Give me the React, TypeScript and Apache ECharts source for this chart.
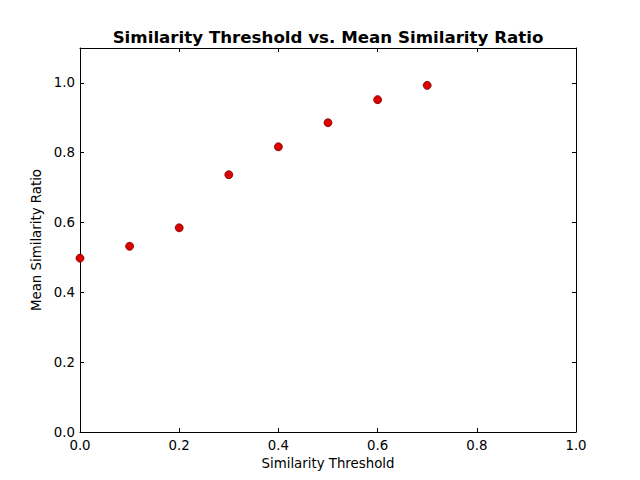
import React, { useEffect, useRef } from "react";
import * as echarts from "echarts";

const thresholds = [0.0, 0.1, 0.2, 0.3, 0.4, 0.5, 0.6, 0.7];
const meanRatios = [0.498, 0.532, 0.585, 0.737, 0.817, 0.886, 0.952, 0.993];
const titleText = "Similarity Threshold vs. Mean Similarity Ratio";
const xName = "Similarity Threshold";
const yName = "Mean Similarity Ratio";

const font = "DejaVu Sans";
const fs = 13.33;

export default function App() {
  const ref = useRef<HTMLDivElement>(null);
  useEffect(() => {
    if (!ref.current) return;
    const chart = echarts.init(ref.current, undefined, { renderer: "svg" });
    const axisCommon = {
      axisLine: { show: true, onZero: false, lineStyle: { color: "#000", width: 1 } },
      axisTick: { show: true, inside: true, length: 4, lineStyle: { color: "#000" } },
      splitLine: { show: false },
    };
    chart.setOption({
      animation: false,
      backgroundColor: "#fff",
      title: {
        text: titleText,
        left: 323,
        textAlign: "center",
        top: 24,
        textStyle: { fontFamily: font, fontWeight: "bold", fontSize: 16.67, color: "#000" },
      },
      grid: { left: 80, right: 64, top: 48, bottom: 48, containLabel: false },
      xAxis: [
        {
          type: "value",
          min: 0,
          max: 1,
          interval: 0.2,
          position: "bottom",
          name: xName,
          nameLocation: "middle",
          nameGap: 24,
          nameTextStyle: { fontFamily: font, fontSize: fs, color: "#000" },
          axisLabel: {
            fontFamily: font,
            fontSize: fs,
            color: "#000",
            margin: 7,
            formatter: (v: number) => v.toFixed(1),
          },
          ...axisCommon,
        },
        {
          type: "value",
          min: 0,
          max: 1,
          interval: 0.2,
          position: "top",
          axisLabel: { show: false },
          ...axisCommon,
        },
      ],
      yAxis: [
        {
          type: "value",
          min: 0,
          max: 1.1,
          interval: 0.2,
          position: "left",
          name: yName,
          nameLocation: "middle",
          nameGap: 27,
          nameTextStyle: { fontFamily: font, fontSize: fs, color: "#000" },
          axisLabel: {
            fontFamily: font,
            fontSize: fs,
            color: "#000",
            margin: 5,
            showMaxLabel: false,
            formatter: (v: number) => v.toFixed(1),
          },
          ...axisCommon,
        },
        {
          type: "value",
          min: 0,
          max: 1.1,
          interval: 0.2,
          position: "right",
          axisLabel: { show: false },
          ...axisCommon,
        },
      ],
      series: [
        {
          type: "scatter",
          xAxisIndex: 0,
          yAxisIndex: 0,
          data: thresholds.map((x, i) => [x, meanRatios[i]]),
          symbol: "circle",
          symbolSize: 8,
          itemStyle: { color: "#dd0000", borderColor: "#7a0000", borderWidth: 0.8, opacity: 1 },
        },
      ],
    });
    return () => chart.dispose();
  }, []);
  return (
    <div
      ref={ref}
      style={{ position: "absolute", left: 0, top: 0, width: 640, height: 480 }}
    />
  );
}
